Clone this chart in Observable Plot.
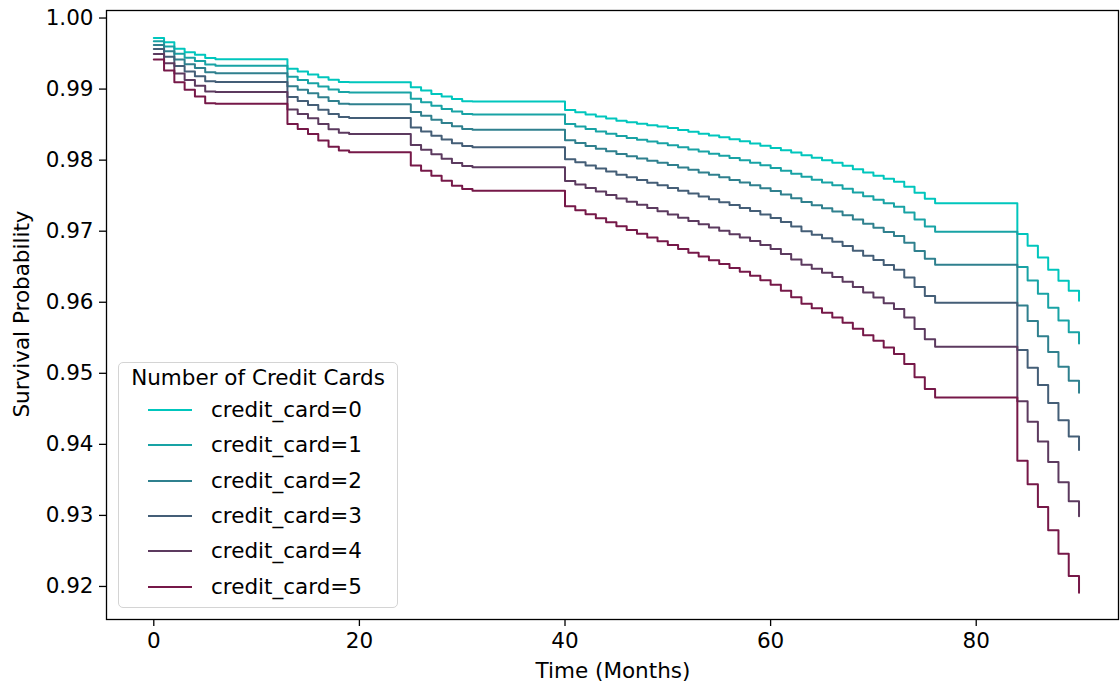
<!DOCTYPE html>
<html>
<head>
<meta charset="utf-8">
<script src="https://cdn.jsdelivr.net/npm/d3@7"></script>
<script src="https://cdn.jsdelivr.net/npm/@observablehq/plot@0.6"></script>
<style>
  body { margin: 0; background: #fff; }
  #wrap { position: relative; width: 1120px; height: 688px; font-family: "DejaVu Sans", sans-serif; color: #000; }
  .lbl { position: absolute; font-size: 21.5px; line-height: 26px; white-space: nowrap; }
  #legend { position: absolute; left: 118px; top: 362px; width: 278px; height: 244px; border: 1px solid #d4d4d4; border-radius: 5px; background: rgba(255,255,255,0.85); }
  .sw { position: absolute; height: 2px; width: 44px; }
</style>
</head>
<body>
<div id="wrap"></div>
<script>
// Step times (months)
const months = [0,1,2,3,4,5,6, 13,14,15,16,17,18,19, 25,26,27,28,29,30,31,
  40,41,42,43,44,45,46,47,48,49,50,51,52,53,54,55,56,57,58,59,60,61,62,63,64,65,66,67,68,69,70,71,72,73,74,75,76,
  84,85,86,87,88,89,90];

const cc0 = [0.99718,0.99659,0.99566,0.99518,0.99482,0.99439,0.99420,
  0.99285,0.99246,0.99204,0.99166,0.99130,0.99100,0.99096,
  0.99025,0.98979,0.98932,0.98894,0.98862,0.98830,0.98824,
  0.98707,0.98675,0.98642,0.98613,0.98585,0.98556,0.98534,0.98513,0.98492,0.98472,0.98451,0.98425,0.98400,0.98373,0.98348,0.98323,0.98294,0.98265,0.98235,0.98204,0.98172,0.98139,0.98106,0.98070,0.98035,0.98000,0.97965,0.97920,0.97873,0.97827,0.97782,0.97739,0.97697,0.97627,0.97542,0.97458,0.97392,
  0.96961,0.96796,0.96631,0.96458,0.96303,0.96162,0.96021];

const cc1 = [0.99674,0.99601,0.99497,0.99441,0.99396,0.99346,0.99329,
  0.99172,0.99128,0.99082,0.99036,0.98993,0.98959,0.98952,
  0.98864,0.98814,0.98764,0.98721,0.98684,0.98650,0.98641,
  0.98509,0.98474,0.98437,0.98404,0.98372,0.98339,0.98313,0.98287,0.98261,0.98236,0.98211,0.98181,0.98151,0.98121,0.98091,0.98062,0.98030,0.97997,0.97963,0.97927,0.97891,0.97850,0.97809,0.97765,0.97725,0.97686,0.97647,0.97597,0.97545,0.97492,0.97443,0.97392,0.97343,0.97262,0.97163,0.97067,0.96993,
  0.96495,0.96306,0.96118,0.95923,0.95742,0.95576,0.95421];

const cc2 = [0.99622,0.99533,0.99418,0.99351,0.99296,0.99237,0.99223,
  0.99040,0.98991,0.98940,0.98885,0.98833,0.98795,0.98785,
  0.98677,0.98623,0.98569,0.98521,0.98477,0.98440,0.98428,
  0.98279,0.98240,0.98199,0.98162,0.98125,0.98087,0.98055,0.98024,0.97993,0.97963,0.97931,0.97897,0.97863,0.97827,0.97793,0.97759,0.97722,0.97686,0.97647,0.97606,0.97564,0.97515,0.97463,0.97410,0.97366,0.97322,0.97277,0.97223,0.97164,0.97104,0.97049,0.96989,0.96931,0.96839,0.96722,0.96612,0.96529,
  0.95953,0.95737,0.95523,0.95301,0.95091,0.94895,0.94725];

const cc3 = [0.99563,0.99455,0.99326,0.99247,0.99181,0.99112,0.99100,
  0.98889,0.98833,0.98777,0.98710,0.98649,0.98606,0.98592,
  0.98461,0.98403,0.98344,0.98289,0.98237,0.98198,0.98183,
  0.98014,0.97970,0.97924,0.97882,0.97839,0.97796,0.97758,0.97721,0.97683,0.97646,0.97609,0.97569,0.97529,0.97489,0.97449,0.97409,0.97368,0.97326,0.97283,0.97235,0.97187,0.97128,0.97065,0.97000,0.96951,0.96901,0.96850,0.96790,0.96724,0.96655,0.96593,0.96524,0.96456,0.96350,0.96213,0.96087,0.95994,
  0.95328,0.95079,0.94835,0.94583,0.94338,0.94109,0.93920];

const cc4 = [0.99494,0.99365,0.99219,0.99128,0.99048,0.98967,0.98959,
  0.98713,0.98650,0.98588,0.98508,0.98436,0.98387,0.98368,
  0.98212,0.98147,0.98083,0.98021,0.97961,0.97918,0.97899,
  0.97707,0.97657,0.97607,0.97558,0.97509,0.97459,0.97414,0.97371,0.97325,0.97281,0.97236,0.97190,0.97143,0.97097,0.97051,0.97005,0.96957,0.96911,0.96861,0.96806,0.96751,0.96680,0.96603,0.96527,0.96470,0.96415,0.96357,0.96290,0.96215,0.96136,0.96067,0.95986,0.95906,0.95784,0.95625,0.95480,0.95375,
  0.94605,0.94319,0.94040,0.93752,0.93468,0.93200,0.92989];

const cc5 = [0.99415,0.99261,0.99096,0.98989,0.98894,0.98800,0.98795,
  0.98510,0.98439,0.98369,0.98275,0.98190,0.98134,0.98110,
  0.97923,0.97852,0.97782,0.97711,0.97641,0.97594,0.97570,
  0.97352,0.97296,0.97239,0.97183,0.97127,0.97070,0.97017,0.96965,0.96911,0.96858,0.96804,0.96751,0.96697,0.96644,0.96590,0.96537,0.96483,0.96430,0.96373,0.96310,0.96246,0.96162,0.96070,0.95979,0.95915,0.95852,0.95786,0.95711,0.95627,0.95535,0.95458,0.95363,0.95270,0.95130,0.94944,0.94778,0.94659,
  0.93768,0.93439,0.93120,0.92792,0.92462,0.92148,0.91913];

const seriesNames = ["credit_card=0","credit_card=1","credit_card=2","credit_card=3","credit_card=4","credit_card=5"];
const seriesColors = ["#00c6bd","#18a3a5","#2f808e","#445e77","#5c3a5f","#761848"];
const xTicks = [0,20,40,60,80];
const yTicks = [0.92,0.93,0.94,0.95,0.96,0.97,0.98,0.99,1.00];
const legendTitle = "Number of Credit Cards";
const xLabel = "Time (Months)";
const yLabel = "Survival Probability";

const allSeries = [cc0, cc1, cc2, cc3, cc4, cc5];
const rows = [];
allSeries.forEach((vals, k) => {
  months.forEach((t, i) => rows.push({t, s: vals[i], series: seriesNames[k]}));
});

const chart = Plot.plot({
  width: 1120,
  height: 688,
  marginLeft: 106,
  marginRight: 2,
  marginTop: 10,
  marginBottom: 69,
  style: {fontFamily: "DejaVu Sans, sans-serif", fontSize: "21.5px", color: "#000", background: "#fff"},
  x: {domain: [-4.6, 93.84]},
  y: {domain: [0.91535, 1.00106]},
  color: {type: "ordinal", domain: seriesNames, range: seriesColors},
  marks: [
    Plot.line(rows, {x: "t", y: "s", z: "series", stroke: "series", strokeWidth: 2, curve: "step-after"}),
    Plot.frame({stroke: "#000", strokeWidth: 1.3}),
    Plot.axisX({ticks: xTicks, tickSize: 7, tickPadding: 6, label: null, tickFormat: d => String(d), strokeWidth: 1.3}),
    Plot.axisY({ticks: yTicks, tickSize: 7, tickPadding: 6, label: null, tickFormat: d3.format(".2f"), strokeWidth: 1.3})
  ]
});

const wrap = document.getElementById("wrap");
wrap.appendChild(chart);

function addLabel(text, css) {
  const d = document.createElement("div");
  d.className = "lbl";
  d.textContent = text;
  Object.assign(d.style, css);
  wrap.appendChild(d);
  return d;
}
// axis titles
addLabel(xLabel, {left: "106px", width: "1014px", textAlign: "center", top: "658px"});
addLabel(yLabel, {left: "22px", top: "314px", transform: "translate(-50%,-50%) rotate(-90deg)"});

// legend
const lg = document.createElement("div");
lg.id = "legend";
wrap.appendChild(lg);
addLabel(legendTitle, {left: "118px", width: "280px", textAlign: "center", top: "365px"});
seriesNames.forEach((name, i) => {
  const cy = 410 + i * 35.3;
  const sw = document.createElement("div");
  sw.className = "sw";
  sw.style.left = "148px";
  sw.style.top = (cy - 1) + "px";
  sw.style.background = seriesColors[i];
  wrap.appendChild(sw);
  addLabel(name, {left: "211px", top: (cy - 13) + "px"});
});
</script>
</body>
</html>
